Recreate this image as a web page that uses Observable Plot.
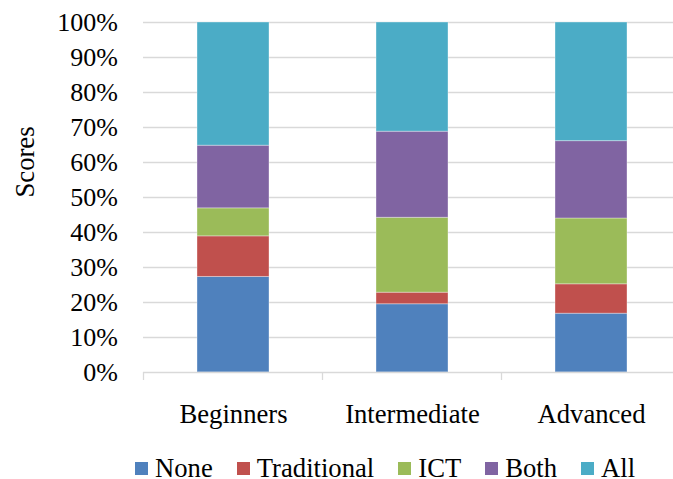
<!DOCTYPE html>
<html><head><meta charset="utf-8">
<script src="https://cdn.jsdelivr.net/npm/d3@7"></script>
<script src="https://cdn.jsdelivr.net/npm/@observablehq/plot@0.6"></script>
<style>
body{margin:0;background:#fff;}
#chart svg{display:block;}
.lg{display:flex;align-items:flex-start;padding-left:135px;margin-top:15px;height:24px;font-family:'Liberation Serif';font-size:26.67px;line-height:26.67px;color:#000;white-space:nowrap;}
.lg .item{display:flex;align-items:flex-start;margin-right:24px;}
.lg .sw{width:13px;height:13px;margin-top:6.7px;margin-right:7px;}
</style></head><body>
<div id="chart"></div>
<div id="legend" class="lg"></div>
<script>
const categories = ["Beginners", "Intermediate", "Advanced"];
const series = ["None", "Traditional", "ICT", "Both", "All"];
const colors = ["#4F81BD", "#C0504D", "#9BBB59", "#8064A2", "#4BACC6"];
const noneValues = [27.3, 19.5, 16.8];
const traditionalValues = [11.6, 3.3, 8.4];
const ictValues = [8.0, 21.4, 18.8];
const bothValues = [17.9, 24.6, 22.1];
const allValues = [35.2, 31.2, 33.9];
const yTicks = [0, 10, 20, 30, 40, 50, 60, 70, 80, 90, 100];
const yLabel = "Scores";

const seriesValues = [noneValues, traditionalValues, ictValues, bothValues, allValues];
const rows = [];
categories.forEach((c, i) => {
  series.forEach((s, j) => rows.push({category: c, series: s, value: seriesValues[j][i]}));
});

const FONT = "Liberation Serif";

const plot = Plot.plot({
  width: 673,
  height: 440,
  marginTop: 22,
  marginBottom: 68,
  marginLeft: 143,
  marginRight: 0,
  style: {fontFamily: FONT, fontSize: "26.67px", background: "#fff"},
  x: {domain: categories, range: [143, 681], paddingInner: 0.6, paddingOuter: 0.3, axis: null},
  y: {domain: [0, 100], axis: null},
  color: {domain: series, range: colors},
  marks: [
    Plot.ruleY(yTicks.filter(d => d > 0), {stroke: "#d9d9d9", strokeWidth: 1.3}),
    Plot.barY(rows, {x: "category", y: "value", fill: "series", stroke: "#ffffff", strokeOpacity: 0.35, strokeWidth: 1}),
    Plot.ruleY([0], {stroke: "#d9d9d9", strokeWidth: 1.3}),
    Plot.axisY({ticks: yTicks, tickSize: 0, tickPadding: 25.7, tickFormat: d => d + "%", label: null, fill: "#000", fontFamily: FONT, fontSize: 26}),
    Plot.axisX({tickSize: 0, tickPadding: 31.4, label: null, fill: "#000", fontFamily: FONT, fontSize: 26.67}),
    Plot.text([yLabel], {frameAnchor: "left", rotate: -90, dx: -118, fill: "#000", fontFamily: FONT, fontSize: 26.67})
  ]
});

// category boundary ticks on the x axis, from the plot's own band scale
const sx = plot.scale("x");
const sy = plot.scale("y");
const y0 = sy.apply(0);
const svg = d3.select(plot);
categories.forEach(c => {
  const bx = sx.apply(c) - (sx.step - sx.bandwidth) / 2;
  svg.append("line").attr("x1", bx).attr("x2", bx).attr("y1", y0).attr("y2", y0 + 8)
    .attr("stroke", "#d9d9d9").attr("stroke-width", 1.3);
});

document.getElementById("chart").appendChild(plot);

const legend = d3.select("#legend");
series.forEach((s, i) => {
  const item = legend.append("div").attr("class", "item");
  item.append("div").attr("class", "sw").style("background", colors[i]);
  item.append("span").text(s);
});
</script>
</body></html>
